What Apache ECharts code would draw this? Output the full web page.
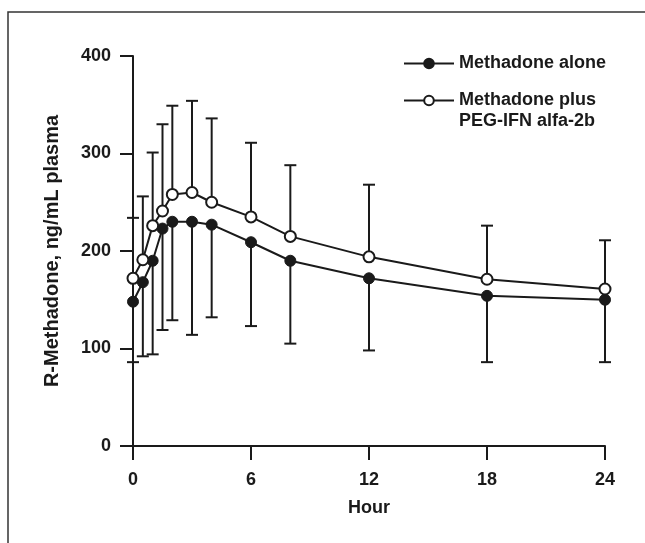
<!DOCTYPE html>
<html>
<head>
<meta charset="utf-8">
<script src="https://cdn.jsdelivr.net/npm/echarts@6/dist/echarts.min.js"></script>
<style>
  html, body { margin: 0; padding: 0; background: #fff; }
  #chart { width: 645px; height: 543px; }
</style>
</head>
<body>
<div id="chart"></div>
<script>
var hours = [0, 0.5, 1, 1.5, 2, 3, 4, 6, 8, 12, 18, 24];
var aloneMean = [148, 168, 190, 223, 230, 230, 227, 209, 190, 172, 154, 150];
var plusMean = [172, 191, 226, 241, 258, 260, 250, 235, 215, 194, 171, 161];
// error bar ends: plus series goes up, alone series goes down
var plusUpper = [234, 256, 301, 330, 349, 354, 336, 311, 288, 268, 226, 211];
var aloneLower = [86, 92, 94, 119, 129, 114, 132, 123, 105, 98, 86, 86];
var xTicks = [0, 6, 12, 18, 24];

var ink = '#1a1a1a';
var font = 'Liberation Sans, Arial, sans-serif';

var chart = echarts.init(document.getElementById('chart'));

function pairs(xs, ys) {
  return xs.map(function (x, i) { return [x, ys[i]]; });
}

// [hour, from, to]
var barData = [];
hours.forEach(function (h, i) {
  barData.push([h, plusMean[i], plusUpper[i]]);
  barData.push([h, aloneMean[i], aloneLower[i]]);
});

function renderBar(params, api) {
  var p0 = api.coord([api.value(0), api.value(1)]);
  var p1 = api.coord([api.value(0), api.value(2)]);
  var half = 6;
  var st = { stroke: ink, lineWidth: 2 };
  return {
    type: 'group',
    children: [
      { type: 'line', shape: { x1: p0[0], y1: p0[1], x2: p1[0], y2: p1[1] }, style: st },
      { type: 'line', shape: { x1: p1[0] - half, y1: p1[1], x2: p1[0] + half, y2: p1[1] }, style: st }
    ]
  };
}

var plusName = 'Methadone plus\nPEG-IFN alfa-2b';

var option = {
  backgroundColor: '#fff',
  animation: false,
  textStyle: { fontFamily: font },
  graphic: [
    { type: 'polyline', shape: { points: [[8, 543], [8, 12], [645, 12]] },
      style: { stroke: '#333', lineWidth: 1.5, fill: null } }
  ],
  legend: {
    orient: 'vertical',
    left: 398,
    top: 48,
    itemWidth: 50,
    itemHeight: 12,
    itemGap: -5,
    textStyle: { fontSize: 18, fontWeight: 'bold', color: ink, lineHeight: 21, fontFamily: font },
    // blank first line keeps the icon level with "Methadone plus"
    formatter: function (name) {
      return name === plusName ? '\n' + name : name;
    },
    data: ['Methadone alone', plusName]
  },
  grid: { left: 133, right: 40, top: 56, bottom: 97 },
  xAxis: {
    type: 'value',
    min: 0,
    max: 24,
    interval: 6,
    name: 'Hour',
    nameLocation: 'middle',
    nameGap: 53,
    nameTextStyle: { fontSize: 18, fontWeight: 'bold', color: ink },
    axisLine: { lineStyle: { color: ink, width: 2 } },
    axisTick: { length: 14, lineStyle: { color: ink, width: 2 } },
    axisLabel: {
      margin: 25, fontSize: 18, fontWeight: 'bold', color: ink,
      customValues: xTicks
    },
    splitLine: { show: false }
  },
  yAxis: {
    type: 'value',
    min: 0,
    max: 400,
    interval: 100,
    name: 'R-Methadone, ng/mL plasma',
    nameLocation: 'middle',
    nameGap: 71,
    nameTextStyle: { fontSize: 20, fontWeight: 'bold', color: ink },
    axisLine: { show: true, lineStyle: { color: ink, width: 2 } },
    axisTick: { show: true, length: 13, lineStyle: { color: ink, width: 2 } },
    axisLabel: { margin: 22, fontSize: 18, fontWeight: 'bold', color: ink },
    splitLine: { show: false }
  },
  series: [
    {
      type: 'custom',
      name: 'sd',
      renderItem: renderBar,
      data: barData,
      encode: { x: 0, y: [1, 2] },
      z: 1,
      silent: true
    },
    {
      type: 'line',
      name: 'Methadone alone',
      data: pairs(hours, aloneMean),
      symbol: 'circle',
      symbolSize: 11,
      lineStyle: { color: ink, width: 2 },
      itemStyle: { color: ink, borderColor: ink, borderWidth: 1 },
      z: 3
    },
    {
      type: 'line',
      name: plusName,
      data: pairs(hours, plusMean),
      symbol: 'circle',
      symbolSize: 11,
      lineStyle: { color: ink, width: 2 },
      itemStyle: { color: '#fff', borderColor: ink, borderWidth: 2 },
      z: 4
    }
  ]
};

chart.setOption(option);
</script>
</body>
</html>
